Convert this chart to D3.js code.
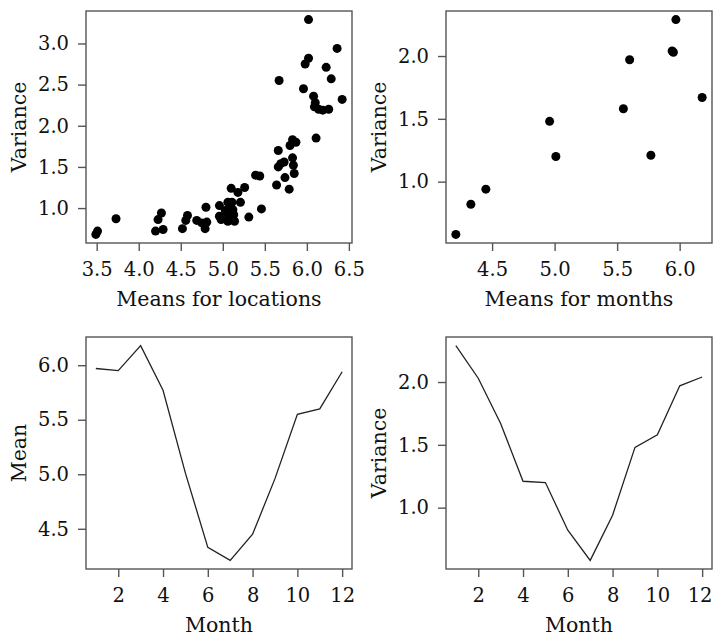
<!DOCTYPE html>
<html>
<head>
<meta charset="utf-8">
<script src="https://cdn.jsdelivr.net/npm/d3@7"></script>
<style>
    body { margin: 0; background: #fff; }
    svg text { font-family: "DejaVu Serif", "Liberation Serif", serif; fill: #111; }
</style>
</head>
<body>
<script>
    // Means and variances for each location
    const locMeans = [3.49, 3.51, 3.73, 4.20, 4.23, 4.27, 4.29, 4.52, 4.56, 4.58, 4.69, 4.75, 4.79, 4.81, 4.80,
        4.96, 4.96, 4.98, 5.06, 5.10, 5.05, 5.07, 5.06, 5.11, 5.12, 5.13, 5.14, 5.18, 5.21, 5.26, 5.31, 5.39,
        5.44, 5.46, 5.64, 5.66, 5.66, 5.67, 5.69, 5.73, 5.74, 5.79, 5.80, 5.83, 5.83, 5.84, 5.85, 5.87, 5.96,
        5.98, 6.02, 6.02, 6.11, 6.08, 6.10, 6.09, 6.14, 6.19, 6.26, 6.23, 6.29, 6.36, 6.42, 5.08, 5.03, 5.10];
    const locVars = [0.68, 0.72, 0.87, 0.72, 0.86, 0.94, 0.74, 0.75, 0.85, 0.91, 0.85, 0.82, 0.75, 0.83, 1.01,
        1.03, 0.90, 0.86, 1.07, 1.24, 0.94, 0.88, 0.84, 1.07, 0.98, 0.92, 0.84, 1.19, 1.07, 1.25, 0.89, 1.40,
        1.39, 0.99, 1.28, 1.50, 1.70, 2.55, 1.54, 1.56, 1.37, 1.23, 1.76, 1.83, 1.61, 1.52, 1.42, 1.80, 2.45,
        2.75, 2.82, 3.29, 1.85, 2.36, 2.28, 2.23, 2.20, 2.19, 2.20, 2.71, 2.57, 2.94, 2.32, 1.00, 0.97, 0.90];

    // Means and variances for each month
    const months = [1, 2, 3, 4, 5, 6, 7, 8, 9, 10, 11, 12];
    const monthMeans = [5.97, 5.95, 6.18, 5.77, 5.01, 4.33, 4.21, 4.45, 4.96, 5.55, 5.60, 5.94];
    const monthVars = [2.29, 2.03, 1.67, 1.21, 1.20, 0.82, 0.58, 0.94, 1.48, 1.58, 1.97, 2.04];

    // Tick values
    const locMeanTicks = [3.5, 4.0, 4.5, 5.0, 5.5, 6.0, 6.5];
    const locVarTicks = [1.0, 1.5, 2.0, 2.5, 3.0];
    const monthMeanTicks = [4.5, 5.0, 5.5, 6.0];
    const monthVarTicks = [1.0, 1.5, 2.0];
    const monthTicks = [2, 4, 6, 8, 10, 12];

    const width = 713;
    const height = 637;

    const svg = d3.select("body")
        .append("svg")
        .attr("width", width)
        .attr("height", height);

    const panelW = 266;
    const panelH = 232;

    // R-style domain: data range padded by 4% each side
    function padded(values) {
        const [lo, hi] = d3.extent(values);
        const p = (hi - lo) * 0.04;
        return [lo - p, hi + p];
    }

    function drawPanel(left, top, opts) {
        const g = svg.append("g").attr("transform", `translate(${left},${top})`);

        const x = d3.scaleLinear().domain(padded(opts.xs)).range([0, panelW]);
        const y = d3.scaleLinear().domain(padded(opts.ys)).range([panelH, 0]);

        const xAxis = g.append("g")
            .attr("transform", `translate(0,${panelH})`)
            .call(d3.axisBottom(x).tickValues(opts.xTicks).tickFormat(opts.xFmt)
                .tickSizeInner(8).tickSizeOuter(0).tickPadding(11));
        const yAxis = g.append("g")
            .call(d3.axisLeft(y).tickValues(opts.yTicks).tickFormat(d3.format(".1f"))
                .tickSizeInner(8).tickSizeOuter(0).tickPadding(9));

        [xAxis, yAxis].forEach(ax => {
            ax.select(".domain").remove();
            ax.selectAll(".tick line").attr("stroke", "#555").attr("stroke-width", 1.4);
            ax.selectAll(".tick text")
                .attr("font-size", "19.5px")
                .attr("fill", "#111")
                .style("font-family", "DejaVu Serif, serif");
        });

        // keep the last tick label inside the page
        xAxis.selectAll(".tick text").each(function (d) {
            const box = this.getBBox();
            const right = left + x(d) + box.x + box.width;
            if (right > width - 1) d3.select(this).attr("dx", (width - 1 - right) + "px");
        });

        if (opts.line) {
            const line = d3.line()
                .x((d, i) => x(opts.xs[i]))
                .y((d, i) => y(opts.ys[i]));
            g.append("path")
                .datum(opts.xs)
                .attr("d", line)
                .attr("fill", "none")
                .attr("stroke", "#222")
                .attr("stroke-width", 1.3);
        } else {
            g.selectAll("circle")
                .data(opts.xs)
                .enter()
                .append("circle")
                .attr("cx", d => x(d))
                .attr("cy", (d, i) => y(opts.ys[i]))
                .attr("r", 4.5)
                .attr("fill", "#000");
        }

        // Box around the plot region
        g.append("rect")
            .attr("width", panelW)
            .attr("height", panelH)
            .attr("fill", "none")
            .attr("stroke", "#555")
            .attr("stroke-width", 1.4);

        // Axis titles
        g.append("text")
            .attr("x", panelW / 2)
            .attr("y", panelH + 63)
            .attr("text-anchor", "middle")
            .attr("font-size", "20.5px")
            .text(opts.xTitle);

        g.append("text")
            .attr("transform", `translate(-60,${panelH / 2}) rotate(-90)`)
            .attr("text-anchor", "middle")
            .attr("font-size", "20.5px")
            .text(opts.yTitle);
    }

    drawPanel(86, 11, {
        xs: locMeans, ys: locVars, xTicks: locMeanTicks, yTicks: locVarTicks,
        xFmt: d3.format(".1f"), xTitle: "Means for locations", yTitle: "Variance"
    });
    drawPanel(446, 11, {
        xs: monthMeans, ys: monthVars, xTicks: monthMeanTicks, yTicks: monthVarTicks,
        xFmt: d3.format(".1f"), xTitle: "Means for months", yTitle: "Variance"
    });
    drawPanel(86, 337, {
        xs: months, ys: monthMeans, xTicks: monthTicks, yTicks: monthMeanTicks,
        xFmt: d3.format("d"), xTitle: "Month", yTitle: "Mean", line: true
    });
    drawPanel(446, 337, {
        xs: months, ys: monthVars, xTicks: monthTicks, yTicks: monthVarTicks,
        xFmt: d3.format("d"), xTitle: "Month", yTitle: "Variance", line: true
    });
</script>
</body>
</html>
